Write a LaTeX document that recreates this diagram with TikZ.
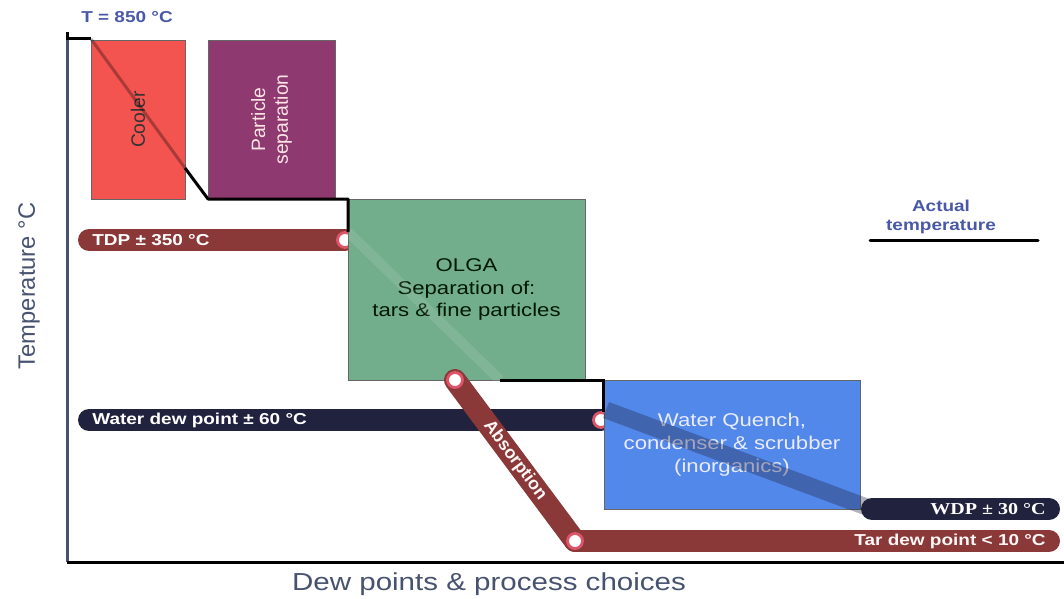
\documentclass[tikz,border=0pt]{standalone}
\usepackage{fontspec}
\setmainfont{Liberation Sans}[FakeStretch=1.2]
\newfontfamily\plainsans{Liberation Sans}
\newfontfamily\wdpserif{Liberation Serif}[FakeStretch=1.2]
\definecolor{coolred}{RGB}{243,84,80}
\definecolor{partpurple}{RGB}{142,58,112}
\definecolor{olgagreen}{RGB}{114,174,140}
\definecolor{quenchblue}{RGB}{82,136,234}
\definecolor{tarred}{RGB}{138,56,56}
\definecolor{waternavy}{RGB}{32,34,62}
\definecolor{labelblue}{RGB}{74,88,168}
\definecolor{axisslate}{RGB}{70,82,112}
\definecolor{dotred}{RGB}{222,84,104}
\usetikzlibrary{positioning,calc}

\begin{document}
\begin{tikzpicture}[x=0.02cm,y=-0.02cm,
  box/.style={draw=black!60,line width=0.5pt,align=center,inner sep=2pt},
  band/.style={line width=0.44cm,line cap=round},
  tline/.style={line width=0.06cm,black},
  marker/.style={circle,fill=white,draw=dotred,line width=1.6pt,inner sep=0pt,minimum size=0.3cm},
  pilltext/.style={text=white,font=\fontsize{9}{11}\selectfont\bfseries,inner sep=0pt}]
  \useasboundingbox (0,0) rectangle (1064,598);

  % axes
  \draw[line width=0.06cm,axisslate] (67,34) -- (67,562);
  \draw[line width=0.06cm,black] (67,562) -- (1064,562);

  % dew point bands behind the boxes
  \coordinate (tdpL) at (89,240);
  \coordinate (tdpR) at (345,240);
  \coordinate (wdpL) at (89,420);
  \coordinate (wdpR) at (601,420);
  \draw[band,tarred] (tdpL) -- (tdpR);
  \draw[band,waternavy] (wdpL) -- (wdpR);
  \node[marker] (tdpM) at (tdpR) {};
  \node[marker] (wdpM) at (wdpR) {};

  % process boxes
  \node[box,fill=coolred,rotate=90,minimum width=3.18cm,minimum height=1.88cm,
        font=\plainsans\fontsize{11}{13}\selectfont,text=black!80]
        (cooler) at (138,119.5) {Cooler};
  \node[box,fill=partpurple,rotate=90,minimum width=3.18cm,minimum height=2.54cm,
        font=\plainsans\fontsize{11}{13}\selectfont,text=pink!40]
        (partsep) at (271.5,119.5) {Particle\\separation};
  \node[box,fill=olgagreen,minimum width=4.74cm,minimum height=3.62cm,
        font=\fontsize{10.5}{13}\selectfont,text=black!75!green!40!black]
        (olga) at (466.5,289.5) {OLGA\\Separation of:\\tars \& fine particles};
  \node[box,fill=quenchblue,minimum width=5.12cm,minimum height=2.58cm,
        font=\fontsize{10.5}{13}\selectfont,text=blue!8]
        (quench) at (732,444.5) {Water Quench,\\condenser \& scrubber\\(inorganics)};

  % absorption and final dew points
  \coordinate (absT) at (455,380);
  \coordinate (absB) at (575,541);
  \coordinate (tarR) at (1049,541);
  \coordinate (wdp30L) at (872,509);
  \coordinate (wdp30R) at (1049,509);
  \coordinate (qIn) at (606,410);
  \draw[band,tarred] (absT) -- (absB);
  \draw[band,tarred] (absB) -- (tarR);
  \draw[line width=0.34cm,waternavy,opacity=0.35] (qIn) -- (wdp30L);
  \draw[band,waternavy] (wdp30L) -- (wdp30R);
  \node[marker] (absTM) at (absT) {};
  \node[marker] (absBM) at (absB) {};

  % actual temperature
  \coordinate (t0) at (67,39);
  \coordinate (t1) at (91,39);
  \coordinate (t2) at (185,168);
  \coordinate (t3) at (208,199);
  \coordinate (t4) at (348,199);
  \coordinate (t5) at (348,232);
  \coordinate (t6) at (500,380);
  \coordinate (t7) at (603,380);
  \coordinate (t8) at (603,412);
  \draw[tline] (67,32) -- (t0) -- (t1);
  \draw[tline,opacity=0.3] (t1) -- (t2);
  \draw[tline,line join=round] (t2) -- (t3) -- (t4) -- (t5);
  \draw[line width=0.2cm,white,opacity=0.1] (t5) -- (t6);
  \draw[tline] (t6) -- (t7) -- (t8);

  % labels
  \node[font=\fontsize{9}{11}\selectfont\bfseries,text=labelblue] (tstart) at (127,17) {T = 850 °C};
  \node[pilltext,anchor=west] (tdpT) at (92,240) {TDP ± 350 °C};
  \node[pilltext,anchor=west] (wdpT) at (92,420) {Water dew point ± 60 °C};
  \node[pilltext,text=pink!15,anchor=east] (tarT) at (1046,541) {Tar dew point < 10 °C};
  \node[pilltext,font=\wdpserif\fontsize{9.5}{11}\selectfont\bfseries,anchor=east] (wdp30T) at (1046,509) {WDP ± 30 °C};
  \node[pilltext,text=pink!15,font=\plainsans\fontsize{10}{12}\selectfont\bfseries,rotate=-53.3]
        (absText) at ($(absT)!0.5!(absB)$) {Absorption};
  \node[font=\fontsize{9}{11}\selectfont\bfseries,text=labelblue,align=center] (actT) at (941,217) {Actual\\temperature};
  \coordinate (legL) at (870,240);
  \coordinate (legR) at (1038,240);
  \draw[tline,line cap=round] (legL) -- (legR);
  \node[font=\plainsans\fontsize{13.5}{16}\selectfont,text=axisslate,rotate=90] (ylab) at (29,286) {Temperature °C};
  \node[font=\fontsize{14}{16}\selectfont,text=axisslate] (xlab) at (489,584) {Dew points \& process choices};
\end{tikzpicture}
\end{document}
